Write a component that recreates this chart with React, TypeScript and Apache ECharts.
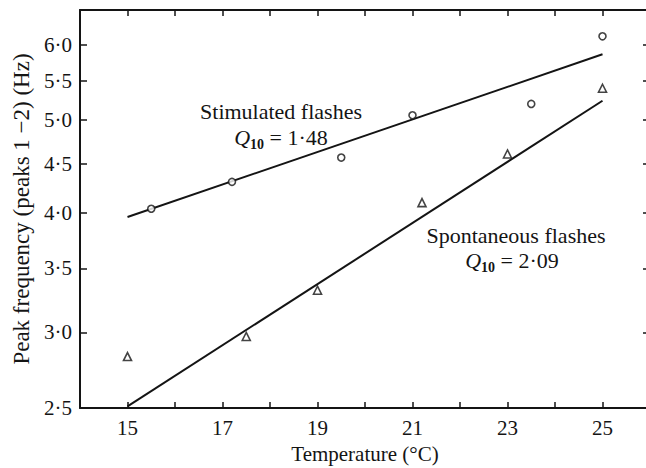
import React, { useEffect, useRef } from "react";
import * as echarts from "echarts";

// Axis ticks
const xMin = 14;
const xMax = 26;
const xLabelTicks = [15, 17, 19, 21, 23, 25];
const yMin = 2.5;
const yMax = 6.52;
const yTicks = [2.5, 3.0, 3.5, 4.0, 4.5, 5.0, 5.5, 6.0];

// Stimulated flashes (circles)
const stimTemps = [15.5, 17.2, 19.5, 21.0, 23.5, 25.0];
const stimFreq = [4.04, 4.31, 4.57, 5.06, 5.2, 6.12];
const stimFitTemps = [15, 25];
const stimFitFreq = [3.96, 5.86];

// Spontaneous flashes (triangles)
const spontTemps = [15.0, 17.5, 19.0, 21.2, 23.0, 25.0];
const spontFreq = [2.83, 2.97, 3.32, 4.1, 4.61, 5.4];
const spontFitTemps = [15, 25];
const spontFitFreq = [2.51, 5.24];

const FONT = '"Liberation Serif", "Times New Roman", serif';
const INK = "#141414";

export default function App() {
  const ref = useRef<HTMLDivElement>(null);

  useEffect(() => {
    if (!ref.current) return;
    const chart = echarts.init(ref.current, null, { renderer: "svg" });
    const ln = Math.log;
    const yLog = yTicks.map((v) => ln(v));
    const fmtY = (v: number) => Math.exp(v).toFixed(1).replace(".", "\u00b7");

    const pts = (xs: number[], ys: number[]) => xs.map((x, i) => [x, ln(ys[i])]);

    const lineAxis = { lineStyle: { color: INK, width: 2 } };

    chart.setOption({
      animation: false,
      backgroundColor: "#ffffff",
      grid: {
        left: 80,
        width: 570,
        top: 10,
        height: 398,
        containLabel: false,
        outerBoundsMode: "none",
      },
      xAxis: [
        {
          type: "value",
          position: "bottom",
          min: xMin,
          max: xMax,
          interval: 1,
          axisLine: lineAxis,
          axisTick: { inside: true, length: 6, lineStyle: { color: INK, width: 1.5 } },
          axisLabel: {
            interval: 0,
            margin: 9,
            fontFamily: FONT,
            fontSize: 21,
            color: INK,
            formatter: (v: number) => (xLabelTicks.includes(v) ? String(v) : ""),
          },
          splitLine: { show: false },
          name: "Temperature (\u00b0C)",
          nameLocation: "middle",
          nameGap: 35,
          nameTextStyle: { fontFamily: FONT, fontSize: 21, color: INK },
        },
        {
          type: "value",
          position: "top",
          min: xMin,
          max: xMax,
          interval: 1,
          axisLine: lineAxis,
          axisTick: { inside: true, length: 6, lineStyle: { color: INK, width: 1.5 } },
          axisLabel: { show: false },
          splitLine: { show: false },
        },
      ],
      yAxis: [
        {
          type: "value",
          position: "left",
          min: ln(yMin),
          max: ln(yMax),
          axisLine: lineAxis,
          axisTick: {
            inside: true,
            length: 7,
            customValues: yLog,
            lineStyle: { color: INK, width: 1.5 },
          },
          axisLabel: {
            customValues: yLog,
            margin: 8,
            fontFamily: FONT,
            fontSize: 21,
            color: INK,
            formatter: fmtY,
          },
          splitLine: { show: false },
          name: "Peak frequency (peaks 1 \u22122) (Hz)",
          nameLocation: "middle",
          nameRotate: 90,
          nameGap: 43,
          nameTextStyle: { fontFamily: FONT, fontSize: 23, color: INK },
        },
        {
          type: "value",
          position: "right",
          min: ln(yMin),
          max: ln(yMax),
          axisLine: lineAxis,
          axisTick: {
            inside: true,
            length: 7,
            customValues: yLog,
            lineStyle: { color: INK, width: 1.5 },
          },
          axisLabel: { show: false },
          splitLine: { show: false },
        },
      ],
      series: [
        {
          type: "line",
          name: "Stimulated fit",
          data: pts(stimFitTemps, stimFitFreq),
          showSymbol: false,
          lineStyle: { color: INK, width: 2 },
          z: 2,
        },
        {
          type: "line",
          name: "Spontaneous fit",
          data: pts(spontFitTemps, spontFitFreq),
          showSymbol: false,
          lineStyle: { color: INK, width: 2 },
          z: 2,
        },
        {
          type: "scatter",
          name: "Stimulated flashes",
          data: pts(stimTemps, stimFreq),
          symbol: "circle",
          symbolSize: 7,
          itemStyle: { color: "#ffffff", borderColor: INK, borderWidth: 1.6 },
          z: 3,
        },
        {
          type: "scatter",
          name: "Spontaneous flashes",
          data: pts(spontTemps, spontFreq),
          symbol: "triangle",
          symbolSize: 8,
          itemStyle: { color: "#ffffff", borderColor: INK, borderWidth: 1.6 },
          z: 3,
        },
      ],
      graphic: [
        {
          type: "text",
          x: 281,
          y: 111,
          style: {
            text: "Stimulated flashes",
            font: `22px ${FONT}`,
            fill: INK,
            align: "center",
            verticalAlign: "middle",
          },
        },
        {
          type: "text",
          x: 281,
          y: 137,
          style: {
            text: "{q|Q}{s|10}{t| = 1\u00b748}",
            align: "center",
            verticalAlign: "middle",
            fill: INK,
            rich: {
              q: { fontFamily: FONT, fontSize: 22, fontStyle: "italic", lineHeight: 28, verticalAlign: "middle", fill: INK },
              s: { fontFamily: FONT, fontSize: 14, fontWeight: "bold", lineHeight: 28, verticalAlign: "bottom", fill: INK },
              t: { fontFamily: FONT, fontSize: 22, lineHeight: 28, verticalAlign: "middle", fill: INK },
            },
          },
        },
        {
          type: "text",
          x: 516,
          y: 235,
          style: {
            text: "Spontaneous flashes",
            font: `22px ${FONT}`,
            fill: INK,
            align: "center",
            verticalAlign: "middle",
          },
        },
        {
          type: "text",
          x: 512,
          y: 260,
          style: {
            text: "{q|Q}{s|10}{t| = 2\u00b709}",
            align: "center",
            verticalAlign: "middle",
            fill: INK,
            rich: {
              q: { fontFamily: FONT, fontSize: 22, fontStyle: "italic", lineHeight: 28, verticalAlign: "middle", fill: INK },
              s: { fontFamily: FONT, fontSize: 14, fontWeight: "bold", lineHeight: 28, verticalAlign: "bottom", fill: INK },
              t: { fontFamily: FONT, fontSize: 22, lineHeight: 28, verticalAlign: "middle", fill: INK },
            },
          },
        },
      ],
    });

    return () => {
      chart.dispose();
    };
  }, []);

  return (
    <div
      ref={ref}
      style={{ position: "fixed", left: 0, top: 0, width: 646, height: 468, background: "#fff" }}
    />
  );
}
